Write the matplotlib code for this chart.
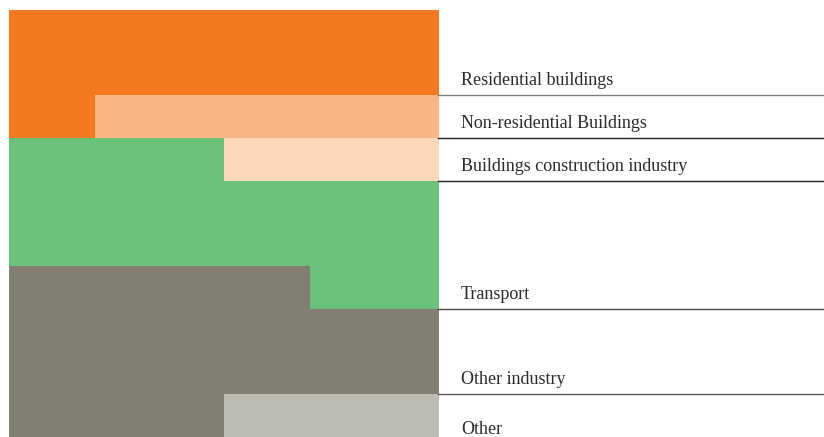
import matplotlib.pyplot as plt
from matplotlib.transforms import blended_transform_factory

# categories, colours, cell counts (out of 100)
labels = ['Residential buildings', 'Non-residential Buildings', 'Buildings construction industry',
          'Transport', 'Other industry', 'Other']
colors = ['#F47920', '#F9B682', '#FDD7B8', '#69C17A', '#827F72', '#BCBCB3']
values = [22, 8, 5, 28, 32, 5]

# 10x10 grid, each row = left block + right block
row_left = [0, 0, 0, 3, 3, 3, 4, 4, 4, 4]
row_split = [10, 10, 2, 5, 10, 10, 7, 10, 10, 5]
row_right = [0, 0, 1, 2, 3, 3, 3, 4, 4, 5]

# row where each label line sits
line_rows = [2, 3, 4, 7, 9, 10]
line_cols = ['#808080', '#222222', '#222222', '#444444', '#555555', '#555555']

W, H = 824, 437
fig = plt.figure(figsize=(W / 100, H / 100), dpi=100)
ax = fig.add_axes([9 / W, 0, 430 / W, 427 / H])

for r in range(10):
    ax.barh(r + 0.5, row_split[r], height=1, left=0, color=colors[row_left[r]], linewidth=0)
    ax.barh(r + 0.5, 10 - row_split[r], height=1, left=row_split[r], color=colors[row_right[r]], linewidth=0)

ax.set_xlim(0, 10)
ax.set_ylim(10, 0)
ax.axis('off')

tr = blended_transform_factory(fig.transFigure, ax.transData)
for i, lab in enumerate(labels):
    k = line_rows[i]
    if i < len(labels) - 1:
        ax.plot([438 / W, 1], [k, k], color=line_cols[i], lw=1, transform=tr, clip_on=False)
        ax.annotate(lab, (461 / W, k), xycoords=tr, xytext=(0, 7.2), textcoords='offset points',
                    va='baseline', ha='left', fontsize=13, family='Liberation Serif', color='#2a2a2a')
    else:
        ax.annotate(lab, (461 / W, k), xycoords=tr, xytext=(0, 2.4), textcoords='offset points',
                    va='baseline', ha='left', fontsize=13, family='Liberation Serif', color='#2a2a2a')

plt.savefig('out.png', dpi=100)
